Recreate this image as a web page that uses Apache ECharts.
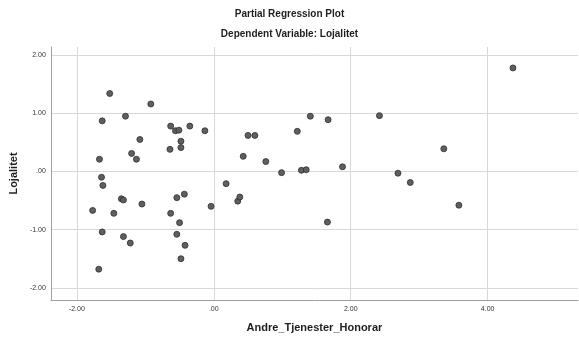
<!DOCTYPE html>
<html>
<head>
<meta charset="utf-8">
<script src="https://cdn.jsdelivr.net/npm/echarts@6/dist/echarts.min.js"></script>
<style>
  html, body { margin: 0; padding: 0; background: #fff; }
  #chart { width: 579px; height: 345px; }
</style>
</head>
<body>
<div id="chart"></div>
<script>
// Partial regression residuals: Andre_Tjenester_Honorar (x) vs Lojalitet (y)
const xValues = [
  -1.52, -1.63, -1.29, -0.92, -0.63, -0.56, -0.51, -0.35, -0.13, -1.08,
  -0.48, -0.48, -0.64, -1.20, -1.67, -1.13, -1.64, -1.62, -1.35, -1.32,
  -1.05, -1.77, -1.46, -0.54, -0.43, -0.63, -0.50, -0.54, -0.42, -0.48,
  -1.63, -1.32, -1.22, -1.68, -0.04, 0.18, 0.35, 0.38, 0.50, 0.60,
  0.43, 0.76, 0.99, 1.28, 1.35, 1.22, 1.41, 1.67, 1.88, 2.42,
  2.69, 1.66, 4.37, 3.36, 2.87, 3.58
];
const yValues = [
  1.34, 0.87, 0.95, 1.16, 0.78, 0.70, 0.71, 0.78, 0.70, 0.55,
  0.52, 0.41, 0.38, 0.31, 0.21, 0.21, -0.10, -0.24, -0.47, -0.49,
  -0.56, -0.67, -0.72, -0.45, -0.39, -0.72, -0.88, -1.08, -1.27, -1.50,
  -1.04, -1.12, -1.23, -1.68, -0.60, -0.21, -0.51, -0.44, 0.62, 0.62,
  0.26, 0.17, -0.02, 0.02, 0.03, 0.69, 0.95, 0.89, 0.08, 0.96,
  -0.03, -0.87, 1.78, 0.39, -0.19, -0.58
];
const xTicks = [-2, 0, 2, 4];
const yTicks = [-2, -1, 0, 1, 2];

function fmt(v) {
  return Number(v).toFixed(2).replace(/^(-?)0\./, '$1.');
}

const points = xValues.map((x, i) => [x, yValues[i]]);

const chart = echarts.init(document.getElementById('chart'), null, { renderer: 'canvas' });
chart.setOption({
  animation: false,
  backgroundColor: '#ffffff',
  title: [
    {
      text: 'Partial Regression Plot',
      left: 'center', top: 4,
      textStyle: { fontFamily: 'Liberation Sans, Arial, sans-serif', fontSize: 10, fontWeight: 'bold', color: '#1e1e1e' }
    },
    {
      text: 'Dependent Variable: Lojalitet',
      left: 'center', top: 24,
      textStyle: { fontFamily: 'Liberation Sans, Arial, sans-serif', fontSize: 10, fontWeight: 'bold', color: '#1e1e1e' }
    }
  ],
  grid: { left: 50, right: 1, top: 47, bottom: 45 },
  xAxis: {
    type: 'value',
    min: -2.38, max: 5.32,
    name: 'Andre_Tjenester_Honorar',
    nameLocation: 'middle', nameGap: 22,
    nameTextStyle: { fontFamily: 'Liberation Sans, Arial, sans-serif', fontSize: 11, fontWeight: 'bold', color: '#1e1e1e' },
    axisLine: { show: true, onZero: false, lineStyle: { color: '#a0a0a0', width: 1 } },
    axisTick: { show: false, customValues: xTicks },
    axisLabel: {
      customValues: xTicks, formatter: fmt, margin: 6,
      fontFamily: 'Liberation Sans, Arial, sans-serif', fontSize: 7, color: '#333'
    },
    splitLine: { show: true, lineStyle: { color: '#d8d8d8', width: 1 } }
  },
  yAxis: {
    type: 'value',
    min: -2.21, max: 2.14,
    name: 'Lojalitet',
    nameLocation: 'middle', nameGap: 27, nameRotate: 90,
    nameTextStyle: { fontFamily: 'Liberation Sans, Arial, sans-serif', fontSize: 11, fontWeight: 'bold', color: '#1e1e1e' },
    axisLine: { show: true, onZero: false, lineStyle: { color: '#a0a0a0', width: 1 } },
    axisTick: { show: false, customValues: yTicks },
    axisLabel: {
      customValues: yTicks, formatter: fmt, margin: 5,
      fontFamily: 'Liberation Sans, Arial, sans-serif', fontSize: 7, color: '#333'
    },
    splitLine: { show: true, lineStyle: { color: '#d8d8d8', width: 1 } }
  },
  series: [{
    type: 'scatter',
    data: points,
    symbol: 'circle',
    symbolSize: 6,
    itemStyle: { color: '#5f5f5f', borderColor: '#2f2f2f', borderWidth: 0.8, opacity: 1 }
  }]
});
</script>
</body>
</html>
